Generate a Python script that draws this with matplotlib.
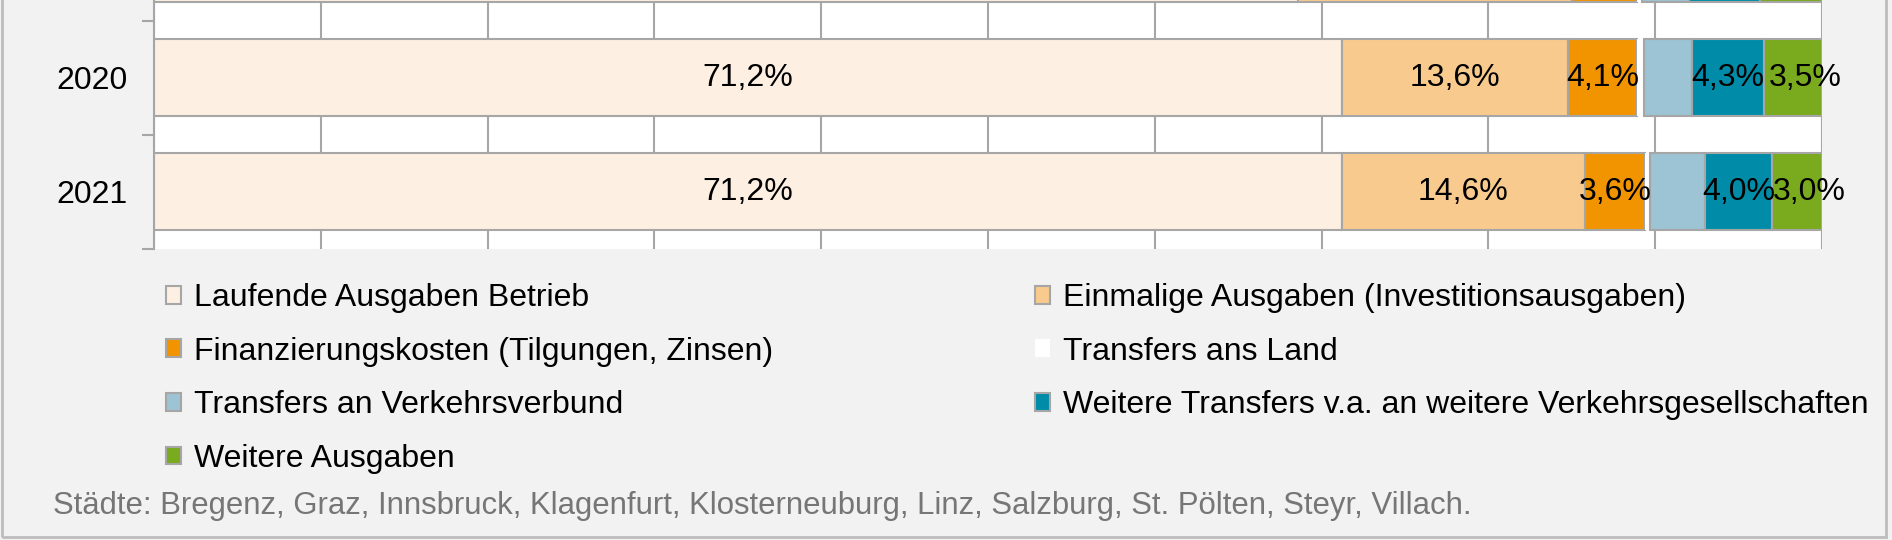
import matplotlib.pyplot as plt
import numpy as np

plt.rcParams['font.family'] = ['Liberation Sans', 'DejaVu Sans']

# Anteile in Prozent je Jahr
years = ['2019', '2020', '2021']
laufende = [68.6, 71.2, 71.2]
einmalig = [16.4, 13.6, 14.6]
finanz = [3.9, 4.1, 3.6]
land = [0.3, 0.4, 0.3]
verbund = [2.8, 2.9, 3.3]
transfers = [4.3, 4.3, 4.0]
weitere = [3.7, 3.5, 3.0]

names = ['Laufende Ausgaben Betrieb',
         'Einmalige Ausgaben (Investitionsausgaben)',
         'Finanzierungskosten (Tilgungen, Zinsen)',
         'Transfers ans Land',
         'Transfers an Verkehrsverbund',
         'Weitere Transfers v.a. an weitere Verkehrsgesellschaften',
         'Weitere Ausgaben']
colors = ['#fdefe1', '#f9ca8d', '#f29400', '#ffffff', '#9cc4d4', '#008ca8', '#7aaa1e']
with_label = [True, True, True, False, False, True, True]
# seitlicher Versatz der Beschriftung in Pixeln (letzte Serie etwas nach rechts)
label_dx = [0, 0, 0, 0, 0, 0, 12]
footnote = 'Städte: Bregenz, Graz, Innsbruck, Klagenfurt, Klosterneuburg, Linz, Salzburg, St. Pölten, Steyr, Villach.'

W, H = 1892, 540
grey = '#a6a6a6'
fig = plt.figure(figsize=(W / 100, H / 100), dpi=100, facecolor='#f2f2f2')
ax = fig.add_axes([154 / W, 1 - 248.5 / H, (1822 - 154) / W, 248.5 / H])
ax.set_facecolor('white')

# Ausschnitt: das Jahr 2019 ist oben abgeschnitten
y_top = 0.32
y = np.arange(len(years))
left = np.zeros(len(years))
series = [laufende, einmalig, finanz, land, verbund, transfers, weitere]
for vals, col, name, show, dx in zip(series, colors, names, with_label, label_dx):
    vals = np.array(vals)
    ec = 'none' if name == 'Transfers ans Land' else grey
    ax.barh(y, vals, left=left, height=0.67, color=col, edgecolor=ec,
            linewidth=1.5, label=name, zorder=2)
    if show:
        for yi, l0, v in zip(y, left, vals):
            if yi < y_top:
                continue
            ax.annotate(f'{v:.1f}%'.replace('.', ','), (l0 + v / 2, yi), xytext=(dx, 0),
                        textcoords='offset pixels', ha='center', va='center',
                        fontsize=23, zorder=3, annotation_clip=False)
    left += vals

ax.set_xticks(np.arange(0, 101, 10))
ax.tick_params(axis='x', length=0, labelbottom=False)
ax.grid(axis='x', color=grey, lw=1.5)
ax.set_axisbelow(True)
ax.set_yticks(y, years)
ax.set_yticks(np.arange(-0.5, 3, 1), minor=True)
ax.tick_params(axis='y', which='major', length=0, pad=19, labelsize=23)
ax.tick_params(axis='y', which='minor', length=9, width=1.5, color=grey)
ax.set_xlim(0, 100)
ax.set_ylim(2.5, y_top)
for s in ['top', 'right', 'bottom']:
    ax.spines[s].set_visible(False)
ax.spines['left'].set_color(grey)
ax.spines['left'].set_linewidth(1.5)

h, l = ax.get_legend_handles_labels()
opts = dict(loc='upper left', bbox_transform=fig.transFigure, frameon=False, fontsize=23,
            handlelength=0.48, handleheight=0.48, handletextpad=0.4, labelspacing=0.74,
            borderpad=0, borderaxespad=0)
fig.legend([h[i] for i in (0, 2, 4, 6)], [l[i] for i in (0, 2, 4, 6)],
           bbox_to_anchor=(166 / W, 1 - 283 / H), **opts)
fig.legend([h[i] for i in (1, 3, 5)], [l[i] for i in (1, 3, 5)],
           bbox_to_anchor=(1035 / W, 1 - 283 / H), **opts)

fig.text(53 / W, 1 - 506 / H, footnote, color='#767676', fontsize=22.4, va='center')

fig.add_artist(plt.Rectangle((2 / W, 3 / H), 1884 / W, 1, transform=fig.transFigure,
                             fill=False, edgecolor='#bdbdbd', lw=2))

fig.savefig('out.png', dpi=100, facecolor=fig.get_facecolor())
